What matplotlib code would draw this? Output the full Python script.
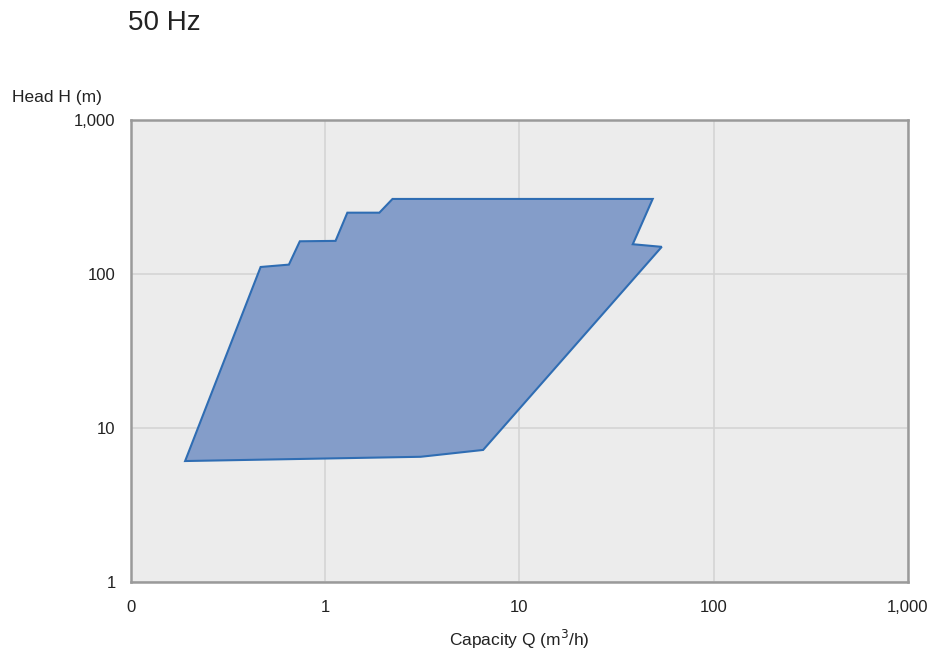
import matplotlib.pyplot as plt
from matplotlib.ticker import FixedLocator, FixedFormatter

plt.rcParams['font.family'] = ['Liberation Sans', 'DejaVu Sans']

# pump operating range (50 Hz), outline of the envelope
capacity = [0.19, 0.465, 0.65, 0.74, 1.13, 1.30, 1.90, 2.22, 48.5, 38.3, 54.0, 6.5, 3.1]
head = [6.1, 111, 115, 163, 164, 250, 250, 307, 307, 156, 150, 7.2, 6.5]

x_ticks = [0.1, 1, 10, 100, 1000]
x_labels = ['0', '1', '10', '100', '1,000']
y_ticks = [1, 10, 100, 1000]
y_labels = ['1', '10', '100', '1,000']

fig = plt.figure(figsize=(9.47, 6.52), dpi=100)
ax = fig.add_axes([0.1383, 0.1074, 0.8205, 0.7086])
ax.set_facecolor('#ececec')

ax.fill(capacity, head, facecolor='#849dc9', edgecolor='#2f6db3', linewidth=1.5, zorder=3)

ax.set_xscale('log')
ax.set_yscale('log')
ax.set_xlim(0.1, 1000)
ax.set_ylim(1, 1000)

ax.xaxis.set_major_locator(FixedLocator(x_ticks))
ax.xaxis.set_major_formatter(FixedFormatter(x_labels))
ax.xaxis.set_minor_locator(FixedLocator([]))
ax.yaxis.set_major_locator(FixedLocator(y_ticks))
ax.yaxis.set_major_formatter(FixedFormatter(y_labels))
ax.yaxis.set_minor_locator(FixedLocator([]))

ax.grid(True, color='#d4d4d4', linewidth=1.2, zorder=1)
ax.set_axisbelow(True)
ax.tick_params(axis='both', length=0, labelsize=12, colors='#222222')
ax.tick_params(axis='x', pad=13)
ax.tick_params(axis='y', pad=11)
for s in ax.spines.values():
    s.set_color('#9a9a9a')
    s.set_linewidth(1.8)

ax.set_xlabel('Capacity Q (m$^3$/h)', fontsize=12.5, color='#222222', labelpad=9)
fig.text(0.013, 0.85, 'Head H (m)', fontsize=12.5, color='#222222', va='center')
fig.text(0.135, 0.965, '50 Hz', fontsize=20, color='#222222', va='center')

fig.savefig('out.png', dpi=100)
